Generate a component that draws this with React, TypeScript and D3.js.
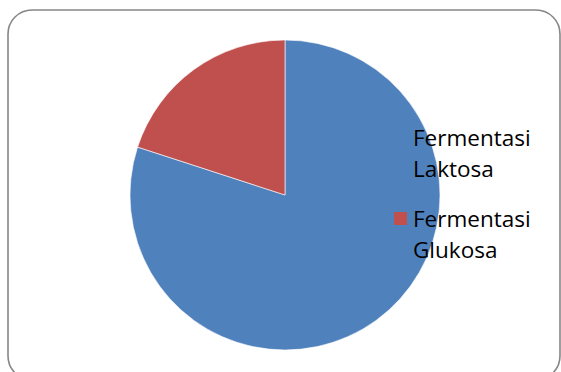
import React from "react";
import * as d3 from "d3";

const categories = ["Fermentasi Laktosa", "Fermentasi Glukosa"];
const values = [80, 20];
const colors = ["#4F81BD", "#C0504D"];
const legendLines = [["Fermentasi", "Laktosa"], ["Fermentasi", "Glukosa"]];

export default function App() {
  const W = 561, H = 372;
  const cx = 285, cy = 195, r = 155;
  const pie = d3.pie<number>().sort(null).value((d) => d)(values);
  const arc = d3.arc<d3.PieArcDatum<number>>().innerRadius(0).outerRadius(r);
  return (
    <svg width={W} height={H} style={{ position: "absolute", left: 0, top: 0 }}>
      <rect x={0} y={0} width={W} height={H} fill="#fff" />
      <rect x={8} y={10} width={552} height={370} rx={24} ry={24} fill="#fff" stroke="#868686" strokeWidth={1.6} />
      <g transform={`translate(${cx},${cy})`}>
        {pie.map((p, i) => (
          <path key={categories[i]} d={arc(p) || ""} fill={colors[i]} stroke="#fff" strokeWidth={0.6} />
        ))}
      </g>
      {categories.map((c, i) => {
        const y0 = 146 + i * 81;
        return (
          <g key={c}>
            <rect x={394} y={y0 - 15} width={13} height={13} fill={colors[i]} />
            {legendLines[i].map((t, j) => (
              <text key={j} x={413} y={y0 + j * 31} fontFamily="Open Sans, sans-serif" fontSize={22.5} fill="#000">
                {t}
              </text>
            ))}
          </g>
        );
      })}
    </svg>
  );
}
